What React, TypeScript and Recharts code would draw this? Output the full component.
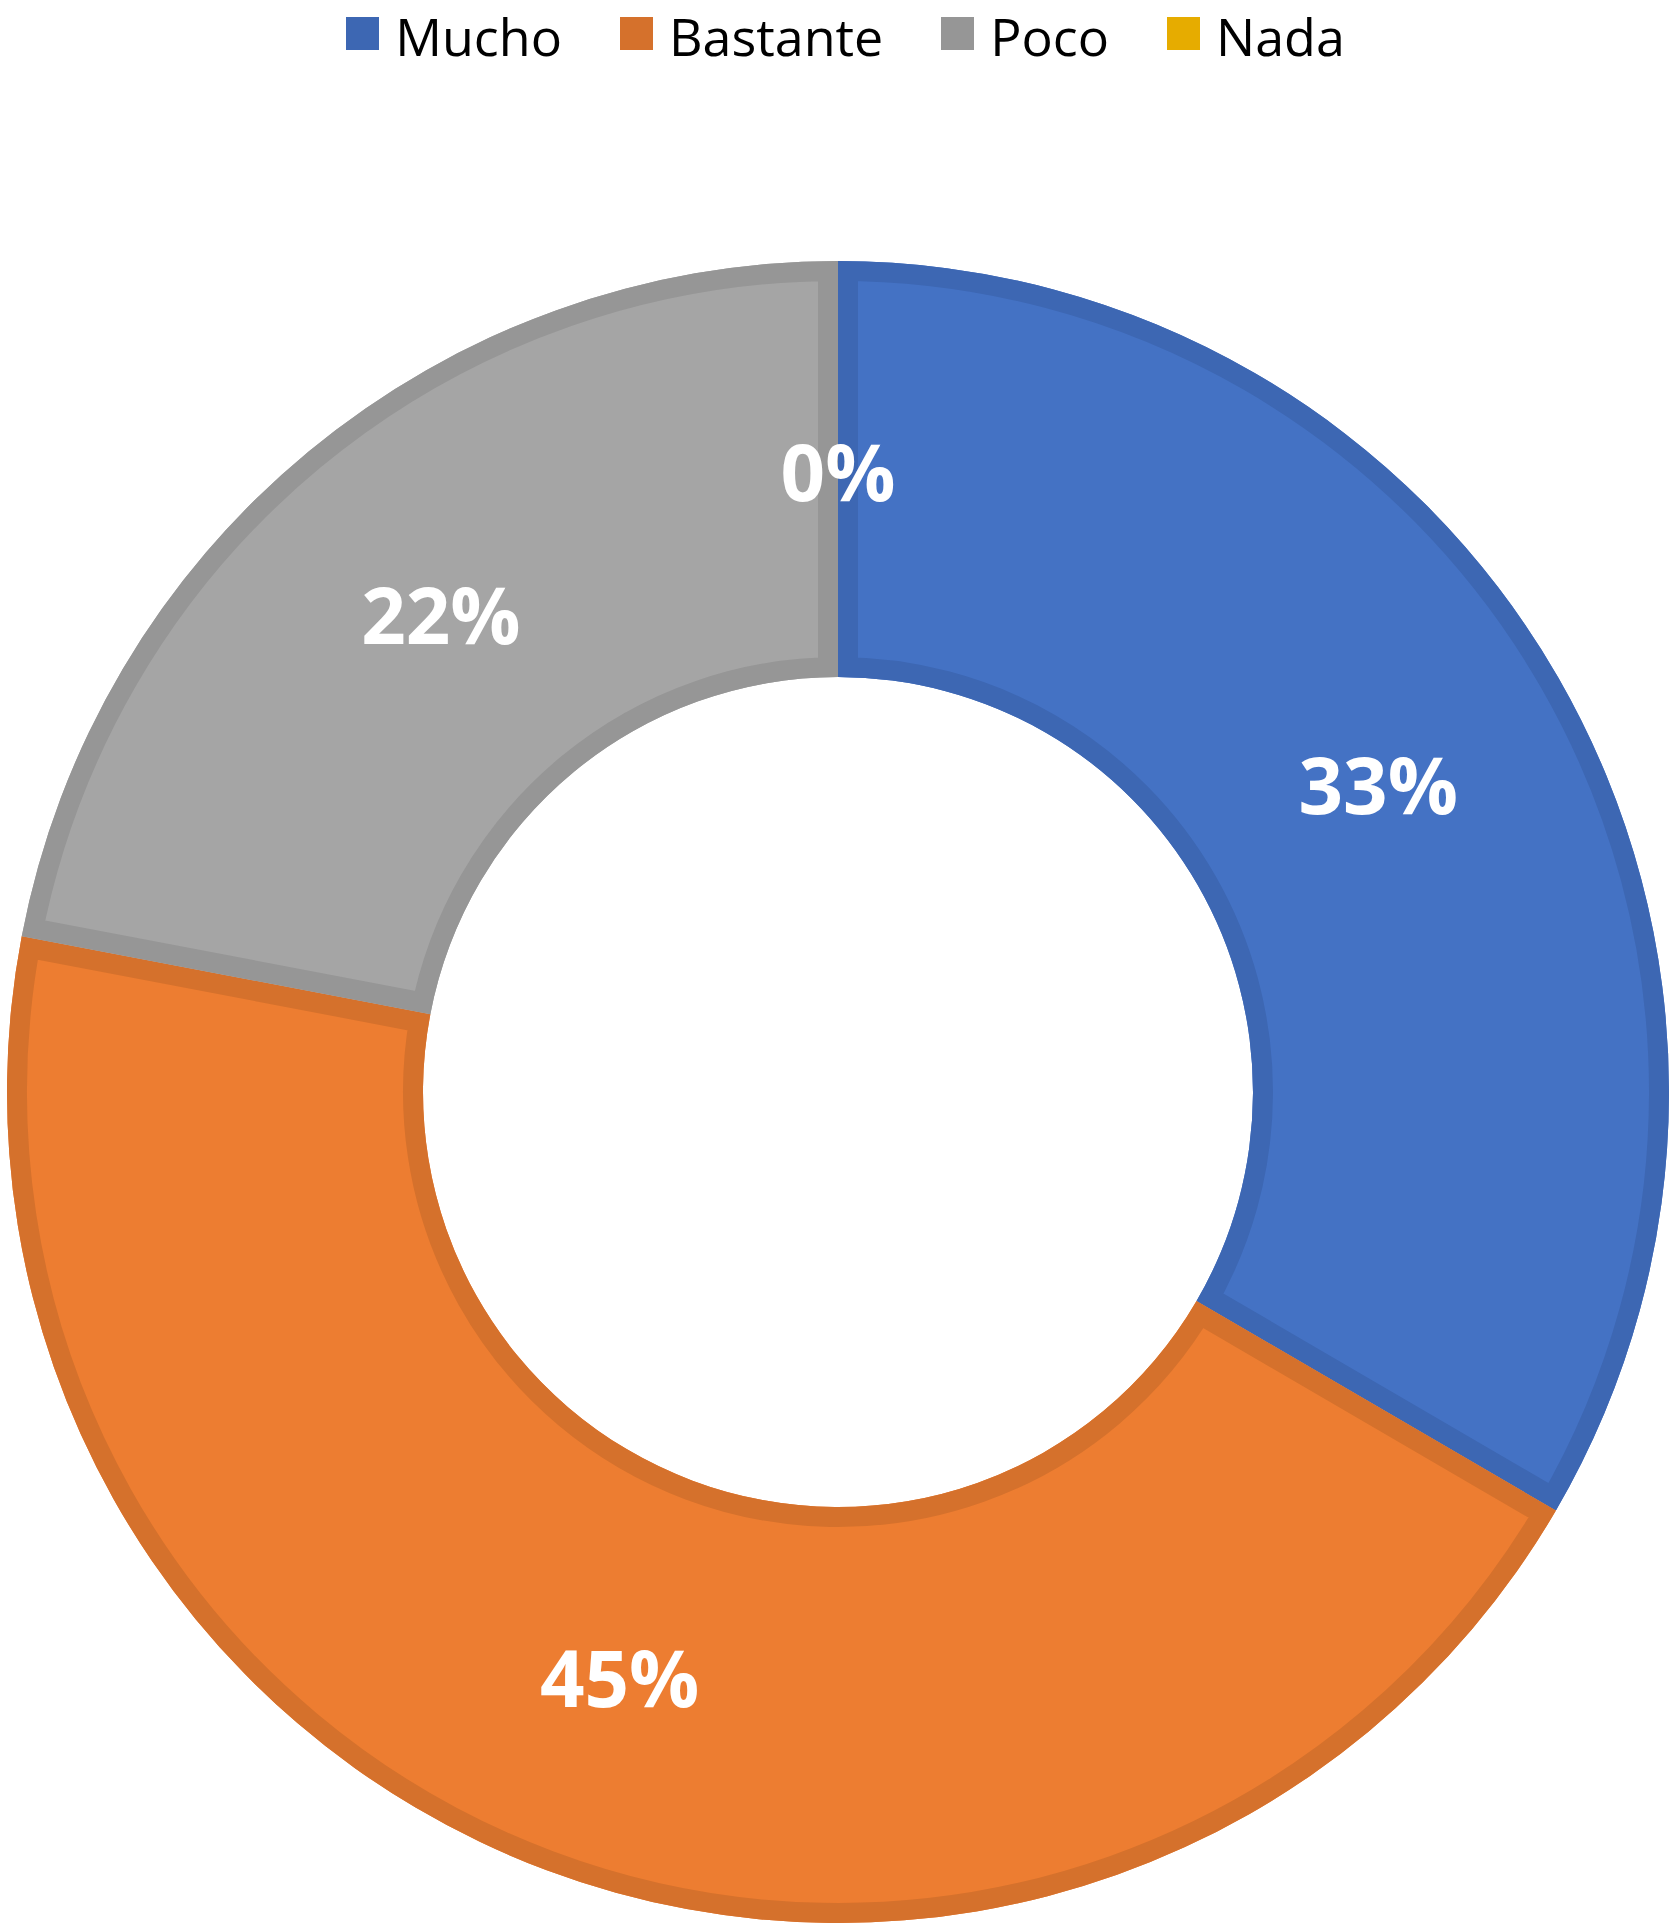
import React from 'react';
import { PieChart, Pie, Cell, Sector } from 'recharts';

const categories = ['Mucho', 'Bastante', 'Poco', 'Nada'];
const shares = [33.4, 44.6, 22.0, 0];
const fillColors = ['#4472C4', '#ED7D31', '#A5A5A5', '#FFC000'];
const borderColors = ['#3D67B3', '#D5712C', '#969696', '#E6AC00'];

const data = categories.map((name, i) => ({ name, value: shares[i] }));

const RADIAN = Math.PI / 180;
const labelFont = "'Open Sans', 'Noto Sans', sans-serif";

// draws the darker inner border of each slice (clipped to the slice) and its percentage
const renderSlice = (props: any) => {
  const { cx, cy, innerRadius, outerRadius, startAngle, endAngle, midAngle, percent, index } = props;
  const r = (innerRadius + outerRadius) / 2;
  const x = cx + r * Math.cos(-midAngle * RADIAN);
  const y = cy + r * Math.sin(-midAngle * RADIAN);
  const clipId = `slice-clip-${index}`;
  const hasArea = Math.abs(endAngle - startAngle) > 0.01;
  return (
    <g key={`slice-${index}`}>
      {hasArea && (
        <>
          <defs>
            <clipPath id={clipId}>
              <Sector cx={cx} cy={cy} innerRadius={innerRadius} outerRadius={outerRadius}
                startAngle={startAngle} endAngle={endAngle} />
            </clipPath>
          </defs>
          <Sector cx={cx} cy={cy} innerRadius={innerRadius} outerRadius={outerRadius}
            startAngle={startAngle} endAngle={endAngle}
            fill="none" stroke={borderColors[index]} strokeWidth={40}
            clipPath={`url(#${clipId})`} />
        </>
      )}
      <text x={x} y={y + 2} fill="#ffffff" textAnchor="middle" dominantBaseline="central"
        fontFamily={labelFont} fontWeight={700} fontSize={78}>
        {`${Math.round(percent * 100)}%`}
      </text>
    </g>
  );
};

const App: React.FC = () => {
  return (
    <div style={{ position: 'absolute', left: 0, top: 0, width: 1675, height: 1930, background: '#ffffff' }}>
      <div style={{
        position: 'absolute', left: 8, top: 0, width: 1675,
        display: 'flex', justifyContent: 'center', alignItems: 'center', gap: 58,
        fontFamily: labelFont, fontSize: 52, color: '#000000', lineHeight: 'normal',
      }}>
        {categories.map((c, i) => (
          <div key={c} style={{ display: 'flex', alignItems: 'center' }}>
            <span style={{ display: 'inline-block', width: 33, height: 33, background: borderColors[i], marginRight: 16, marginTop: -4 }} />
            <span>{c}</span>
          </div>
        ))}
      </div>
      <PieChart width={1675} height={1930} margin={{ top: 0, right: 0, bottom: 0, left: 0 }}>
        <Pie
          data={data}
          dataKey="value"
          nameKey="name"
          cx={838}
          cy={1092}
          innerRadius={415}
          outerRadius={831}
          startAngle={90}
          endAngle={-270}
          stroke="none"
          label={renderSlice}
          labelLine={false}
          isAnimationActive={false}
        >
          {data.map((d, i) => (
            <Cell key={d.name} fill={fillColors[i]} />
          ))}
        </Pie>
      </PieChart>
    </div>
  );
};

export default App;
